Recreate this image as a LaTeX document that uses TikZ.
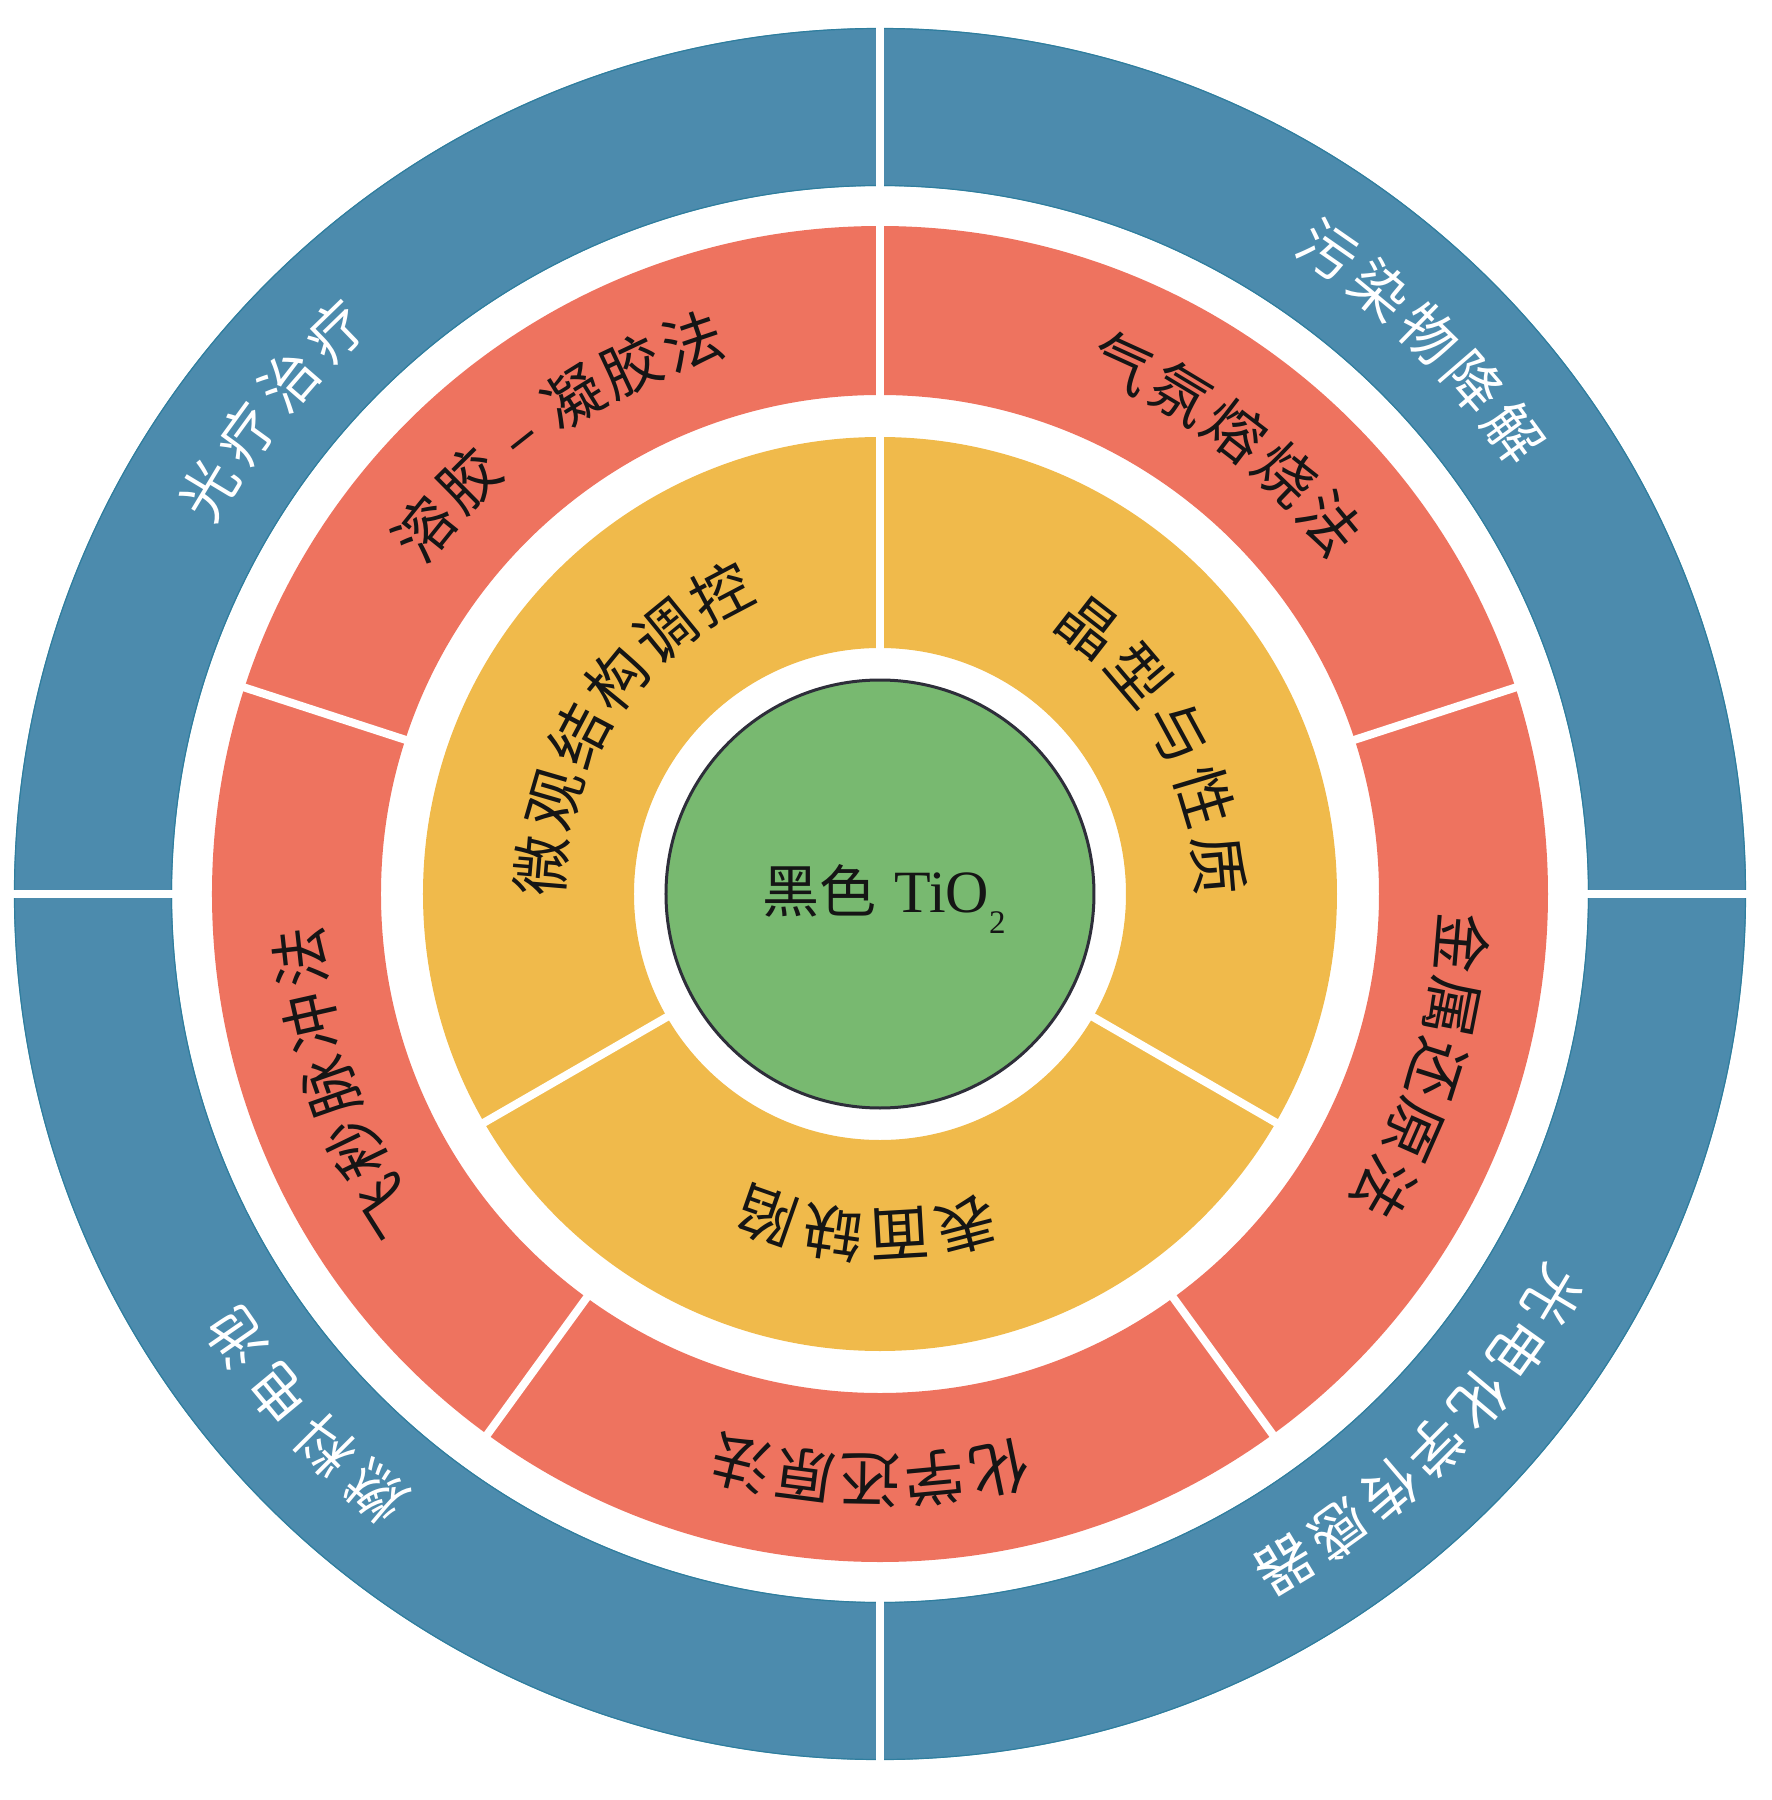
\documentclass[tikz,border=0pt]{standalone}
\usepackage{fontspec}
\setmainfont{Liberation Serif}
\newfontfamily\cjk{Noto Sans CJK SC}
\definecolor{ringblue}{HTML}{4C8BAD}
\definecolor{ringblueedge}{HTML}{2F7E9E}
\definecolor{ringred}{HTML}{EE735F}
\definecolor{ringyellow}{HTML}{F0BA4B}
\definecolor{coregreen}{HTML}{78B970}
\definecolor{coreedge}{HTML}{2E2E3A}
\definecolor{inktext}{HTML}{151515}
% #1 name, #2 radius, #3 middle angle, #4 step, #5 count, #6 style, #7 characters
\newcommand{\ringlabel}[7]{%
  \foreach \ch [count=\i] in {#7} {%
    \pgfmathsetmacro\ang{#3+((#5+1)/2-\i)*#4}%
    \node[#6, rotate=\ang-90] (#1-\i) at (\ang:#2) {\ch};
  }%
}
\begin{document}
\begin{tikzpicture}[x=1pt,y=1pt,
  gapline/.style={white, line width=8pt},
  bluetext/.style={text=white, font=\cjk\fontsize{57}{57}\selectfont, inner sep=0pt, text height=47pt, text depth=4pt},
  redtext/.style={text=inktext, font=\cjk\fontsize{60}{60}\selectfont, inner sep=0pt, text height=50pt, text depth=4pt},
  yellowtext/.style={text=inktext, font=\cjk\fontsize{60}{60}\selectfont, inner sep=0pt, text height=50pt, text depth=4pt}]
\useasboundingbox (-880,-906) rectangle (892,894);
% rings
\fill[ringblue, even odd rule] (0,0) circle[radius=866] (0,0) circle[radius=708];
\draw[ringblueedge, line width=1.2pt] (0,0) circle[radius=865.5] (0,0) circle[radius=708.5];
\fill[ringred, even odd rule] (0,0) circle[radius=668] (0,0) circle[radius=499];
\fill[ringyellow, even odd rule] (0,0) circle[radius=457] (0,0) circle[radius=246];
% gaps
\foreach \a in {0,90,180,270} \draw[gapline] (\a:700) -- (\a:872);
\foreach \a in {18,90,162,234,306} \draw[gapline] (\a:492) -- (\a:674);
\foreach \a in {90,210,330} \draw[gapline] (\a:240) -- (\a:462);
% core
\draw[fill=coregreen, draw=coreedge, line width=3pt] (0,0) circle[radius=214];
\node[anchor=base, text=inktext, font=\fontsize{60}{60}\selectfont, inner sep=0pt] (core) at (4,-18)
  {{\cjk\fontsize{57}{57}\selectfont 黑色}\hspace{18pt}TiO\raisebox{-21pt}{\fontsize{33}{33}\selectfont 2}};
% blue labels
\ringlabel{ba}{784}{45.6}{4.78}{5}{bluetext}{污,染,物,降,解}
\ringlabel{bb}{784}{-44.85}{4.68}{7}{bluetext}{光,电,化,学,传,感,器}
\ringlabel{bc}{782}{-137.7}{5.1}{4}{bluetext}{燃,料,电,池}
\ringlabel{bd}{783}{141.5}{4.97}{4}{bluetext}{光,疗,治,疗}
% red labels
\ringlabel{ra}{584}{125}{6.5}{6}{redtext}{溶,胶,–,凝,胶,法}
\ringlabel{rb}{584}{52.5}{6.5}{5}{redtext}{气,氛,熔,烧,法}
\ringlabel{rc}{584}{-17.5}{6.35}{5}{redtext}{金,属,还,原,法}
\ringlabel{rd}{587}{-91}{6.37}{5}{redtext}{化,学,还,原,法}
\ringlabel{re}{583}{199.3}{6.55}{5}{redtext}{飞,秒,脉,冲,法}
% yellow labels
\ringlabel{ya}{340}{146.5}{11.5}{6}{yellowtext}{微,观,结,构,调,控}
\ringlabel{yb}{340}{28.5}{11.8}{5}{yellowtext}{晶,型,与,性,质}
\ringlabel{yc}{342}{-92.4}{11.3}{4}{yellowtext}{表,面,缺,陷}
\end{tikzpicture}
\end{document}
